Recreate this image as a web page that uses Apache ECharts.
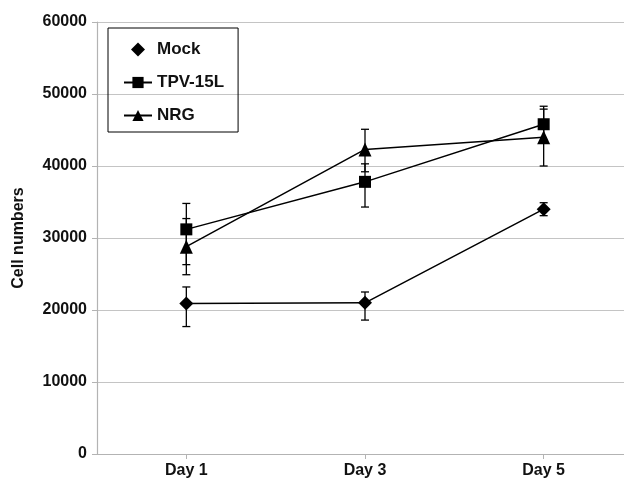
<!DOCTYPE html>
<html>
<head>
<meta charset="utf-8">
<script src="https://cdn.jsdelivr.net/npm/echarts@6/dist/echarts.min.js"></script>
<style>
html,body{margin:0;padding:0;background:#fff;overflow:hidden;width:624px;height:482px;}
#chart{width:634px;height:482px;}
</style>
</head>
<body>
<div id="chart"></div>
<script>
// ---- data ----
var categories = ['Day 1', 'Day 3', 'Day 5'];
var seriesNames = ['Mock', 'TPV-15L', 'NRG'];
var mockValues = [20900, 21000, 34000];
var mockLow    = [17700, 18600, 33100];
var mockHigh   = [23200, 22500, 34900];
var tpvValues  = [31200, 37800, 45800];
var tpvLow     = [26300, 34300, 43300];
var tpvHigh    = [34800, 40300, 48300];
var nrgValues  = [28800, 42300, 44000];
var nrgLow     = [24900, 39200, 40000];
var nrgHigh    = [32700, 45100, 47900];
var yTicks = [0, 10000, 20000, 30000, 40000, 50000, 60000];
var yAxisTitle = 'Cell numbers';

var FONT = '"Liberation Sans", Arial, sans-serif';

function errData(low, high) {
  return categories.map(function (c, i) { return [i, low[i], high[i]]; });
}

function errSeries(name, low, high) {
  return {
    type: 'custom',
    name: name + ' err',
    silent: true,
    z: 1,
    data: errData(low, high),
    renderItem: function (params, api) {
      var x = api.value(0);
      var lo = api.coord([x, api.value(1)]);
      var hi = api.coord([x, api.value(2)]);
      var hw = 4;
      var st = { stroke: '#000', lineWidth: 1.3 };
      return {
        type: 'group',
        children: [
          { type: 'line', shape: { x1: lo[0], y1: lo[1], x2: hi[0], y2: hi[1] }, style: st },
          { type: 'line', shape: { x1: lo[0] - hw, y1: lo[1], x2: lo[0] + hw, y2: lo[1] }, style: st },
          { type: 'line', shape: { x1: hi[0] - hw, y1: hi[1], x2: hi[0] + hw, y2: hi[1] }, style: st }
        ]
      };
    }
  };
}

function lineSeries(name, values, symbol, size) {
  return {
    type: 'line',
    name: name,
    data: values,
    symbol: symbol,
    symbolSize: size,
    showAllSymbol: true,
    z: 3,
    itemStyle: { color: '#000', borderWidth: 0 },
    lineStyle: { color: '#000', width: 1.5 },
    emphasis: { disabled: true },
    animation: false
  };
}

var chart = echarts.init(document.getElementById('chart'), null, { renderer: 'canvas', width: 634, height: 482 });
chart.setOption({
  animation: false,
  backgroundColor: '#fff',
  textStyle: { fontFamily: FONT },
  grid: { left: 97, top: 22, bottom: 28, right: 1, containLabel: false },
  legend: {
    orient: 'vertical',
    left: 108,
    top: 28,
    padding: [13, 14, 8, 15],
    borderColor: '#000',
    borderWidth: 1,
    itemWidth: 28,
    itemHeight: 14,
    itemGap: 16,
    symbolKeepAspect: true,
    textStyle: { fontFamily: FONT, fontWeight: 'bold', fontSize: 17, color: '#111', lineHeight: 16 },
    data: [
      { name: 'Mock', icon: 'path://M0,7L7,0L14,7L7,14Z' },
      { name: 'TPV-15L' },
      { name: 'NRG' }
    ]
  },
  xAxis: {
    type: 'category',
    data: categories,
    boundaryGap: true,
    axisLine: { lineStyle: { color: '#b3b3b3', width: 1.2 } },
    axisTick: { show: true, alignWithLabel: true, length: 5, lineStyle: { color: '#b3b3b3' } },
    axisLabel: { fontFamily: FONT, fontWeight: 'bold', fontSize: 16, color: '#111', margin: 9 }
  },
  yAxis: {
    type: 'value',
    min: 0,
    max: 60000,
    interval: 10000,
    name: yAxisTitle,
    nameLocation: 'middle',
    nameRotate: 90,
    nameGap: 70,
    nameTextStyle: { fontFamily: FONT, fontWeight: 'bold', fontSize: 16, color: '#111' },
    axisLine: { show: true, lineStyle: { color: '#b3b3b3', width: 1.2 } },
    axisTick: { show: true, length: 5, lineStyle: { color: '#b3b3b3' } },
    splitLine: { show: true, lineStyle: { color: '#c4c4c4', width: 1.2 } },
    axisLabel: {
      fontFamily: FONT, fontWeight: 'bold', fontSize: 16, color: '#111', margin: 10,
      formatter: function (v) { return yTicks.indexOf(v) >= 0 ? String(v) : ''; }
    }
  },
  series: [
    errSeries('Mock', mockLow, mockHigh),
    errSeries('TPV-15L', tpvLow, tpvHigh),
    errSeries('NRG', nrgLow, nrgHigh),
    lineSeries('Mock', mockValues, 'diamond', [14, 14]),
    lineSeries('TPV-15L', tpvValues, 'rect', [12, 12]),
    lineSeries('NRG', nrgValues, 'triangle', [13, 14])
  ]
});
</script>
</body>
</html>
